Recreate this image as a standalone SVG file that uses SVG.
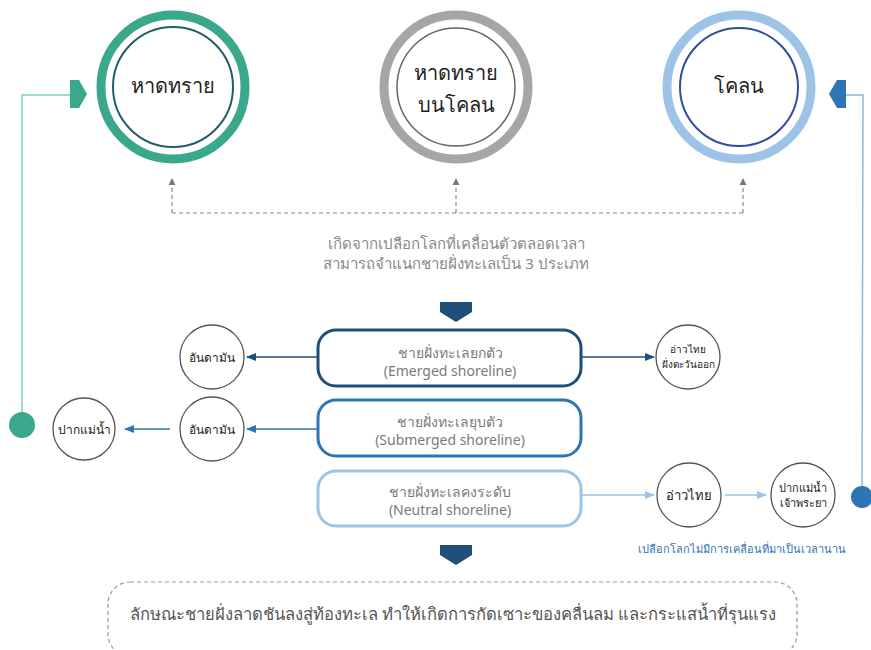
<svg xmlns="http://www.w3.org/2000/svg" width="871" height="650" viewBox="0 0 871 650">
<defs>
<style>
text{font-family:"Noto Sans","DejaVu Sans",sans-serif;text-anchor:middle;dominant-baseline:central;font-weight:normal}
.big{font-size:20px;fill:#222;font-weight:300}
.sm{font-size:12px;fill:#222}
.gray{font-size:14px;fill:#7a7a7a}
.dash{fill:none;stroke:#8a8a8a;stroke-width:1.2;stroke-dasharray:4 3}
.node{fill:#fff;stroke:#555;stroke-width:1.3}
</style>
<marker id="an" viewBox="0 0 10 10" refX="9" refY="5" markerWidth="8" markerHeight="8" orient="auto"><path d="M0,1 L10,5 L0,9 Z" fill="#1f4e79"/></marker>
<marker id="ab" viewBox="0 0 10 10" refX="9" refY="5" markerWidth="8" markerHeight="8" orient="auto"><path d="M0,1 L10,5 L0,9 Z" fill="#2e75b6"/></marker>
<marker id="al" viewBox="0 0 10 10" refX="9" refY="5" markerWidth="8" markerHeight="8" orient="auto"><path d="M0,1 L10,5 L0,9 Z" fill="#9dc3e6"/></marker>
</defs>
<rect width="871" height="650" fill="#fff"/>

<g id="connectors">
<path class="dash" d="M172,213 H743 M172,213 V184 M456,213 V184 M743,213 V184" />
<path d="M172,178 l-3.5,7 h7 Z M456,178 l-3.5,7 h7 Z M743,178 l-3.5,7 h7 Z" fill="#777"/>
<polyline points="22,425 22,95 72,95" fill="none" stroke="#7ccfc0" stroke-width="1.5"/>
<polyline points="862,497 863,95 840,95" fill="none" stroke="#8fb8de" stroke-width="1.5"/>
<line x1="318" y1="357" x2="247" y2="357" stroke="#1f4e79" stroke-width="1.3" marker-end="url(#an)"/>
<line x1="582" y1="357" x2="654" y2="357" stroke="#1f4e79" stroke-width="1.3" marker-end="url(#an)"/>
<line x1="318" y1="429" x2="247" y2="429" stroke="#2e75b6" stroke-width="1.3" marker-end="url(#ab)"/>
<line x1="170" y1="429" x2="125" y2="429" stroke="#2e75b6" stroke-width="1.3" marker-end="url(#ab)"/>
<line x1="582" y1="495" x2="654" y2="495" stroke="#9dc3e6" stroke-width="1.3" marker-end="url(#al)"/>
<line x1="725" y1="495" x2="766" y2="495" stroke="#9dc3e6" stroke-width="1.3" marker-end="url(#al)"/>
<path d="M440,302 H472 V312 L456,322 L440,312 Z" fill="#1f4e79"/>
<path d="M440,545 H472 V555 L456,565 L440,555 Z" fill="#1f4e79"/>
</g>

<g id="sand">
<circle cx="173" cy="87" r="72" fill="none" stroke="#3aa98b" stroke-width="9"/>
<circle cx="173" cy="87" r="60" fill="#fff" stroke="#1d5f6b" stroke-width="2"/>
<text class="big" x="173" y="85">หาดทราย</text>
<path d="M70,80 H79 L87,94 L79,108 H70 Z" fill="#3aa98b"/>
<circle cx="22" cy="425" r="13" fill="#3aa98b"/>
</g>

<g id="sandmud">
<circle cx="456" cy="87" r="72" fill="none" stroke="#a6a6a6" stroke-width="9"/>
<circle cx="456" cy="87" r="59" fill="#fff" stroke="#666" stroke-width="1.5"/>
<text class="big" x="456" y="72">หาดทราย</text>
<text class="big" x="456" y="104">บนโคลน</text>
</g>

<g id="mud">
<circle cx="739" cy="87" r="72" fill="none" stroke="#9dc3e6" stroke-width="9"/>
<circle cx="739" cy="87" r="59" fill="#fff" stroke="#2f4e9e" stroke-width="2"/>
<text class="big" x="739" y="85">โคลน</text>
<path d="M846,80 H837 L829,94 L837,108 H846 Z" fill="#2e75b6"/>
<circle cx="862" cy="497" r="11" fill="#2e75b6"/>
</g>

<g id="caption">
<text class="gray" x="456" y="243" style="font-size:15px;fill:#888">เกิดจากเปลือกโลกที่เคลื่อนตัวตลอดเวลา</text>
<text class="gray" x="456" y="263" style="font-size:15px;fill:#888">สามารถจำแนกชายฝั่งทะเลเป็น 3 ประเภท</text>
</g>

<g id="emerged">
<rect x="318" y="330" width="263" height="56" rx="18" fill="#fff" stroke="#1f4e79" stroke-width="3"/>
<text class="gray" x="450" y="352">ชายฝั่งทะเลยกตัว</text>
<text class="gray" x="450" y="370">(Emerged shoreline)</text>
</g>
<g id="submerged">
<rect x="318" y="400" width="263" height="56" rx="18" fill="#fff" stroke="#2e75b6" stroke-width="3"/>
<text class="gray" x="450" y="421">ชายฝั่งทะเลยุบตัว</text>
<text class="gray" x="450" y="439">(Submerged shoreline)</text>
</g>
<g id="neutral">
<rect x="318" y="471" width="263" height="55" rx="18" fill="#fff" stroke="#9dc3e6" stroke-width="3"/>
<text class="gray" x="450" y="491">ชายฝั่งทะเลคงระดับ</text>
<text class="gray" x="450" y="509">(Neutral shoreline)</text>
</g>

<g id="andaman1">
<circle class="node" cx="212" cy="357" r="32"/>
<text class="sm" x="212" y="357">อันดามัน</text>
</g>
<g id="andaman2">
<circle class="node" cx="212" cy="429" r="32"/>
<text class="sm" x="212" y="429">อันดามัน</text>
</g>
<g id="estuary">
<circle class="node" cx="84" cy="429" r="31"/>
<text class="sm" x="84" y="429">ปากแม่น้ำ</text>
</g>
<g id="eastgulf">
<circle class="node" cx="688" cy="357" r="32"/>
<text class="sm" x="688" y="349" style="font-size:10px">อ่าวไทย</text>
<text class="sm" x="688" y="364" style="font-size:10px">ฝั่งตะวันออก</text>
</g>
<g id="gulf">
<circle class="node" cx="689" cy="495" r="32"/>
<text class="sm" x="689" y="495" style="font-size:13px">อ่าวไทย</text>
</g>
<g id="chaophraya">
<circle class="node" cx="803" cy="495" r="32"/>
<text class="sm" x="803" y="487" style="font-size:11px">ปากแม่น้ำ</text>
<text class="sm" x="803" y="502" style="font-size:11px">เจ้าพระยา</text>
</g>
<g id="note">
<text x="742" y="548" style="font-size:11px;fill:#2e75b6">เปลือกโลกไม่มีการเคลื่อนที่มาเป็นเวลานาน</text>
</g>

<g id="summary">
<rect x="108" y="582" width="689" height="74" rx="22" fill="none" stroke="#999" stroke-width="1.2" stroke-dasharray="4 3"/>
<text x="453" y="613" style="font-size:16.6px;fill:#555">ลักษณะชายฝั่งลาดชันลงสู่ท้องทะเล ทำให้เกิดการกัดเซาะของคลื่นลม และกระแสน้ำที่รุนแรง</text>
</g>
</svg>
